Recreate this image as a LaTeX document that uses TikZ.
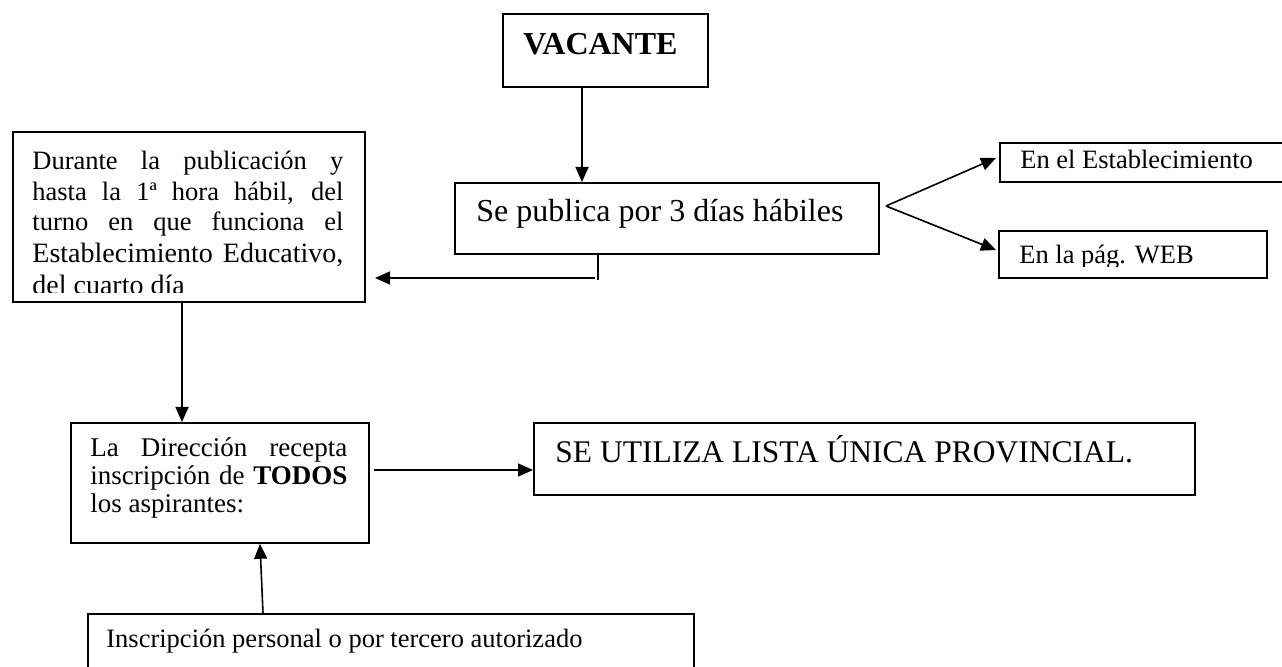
\documentclass[tikz,border=0pt]{standalone}
\usepackage{fontspec}
\setmainfont{Liberation Serif}
\usetikzlibrary{arrows.meta}
\begin{document}
\begin{tikzpicture}[x=0.5pt,y=-0.5pt,
  box/.style={draw,line width=0.9pt,inner sep=0pt,anchor=north west},
  txt/.style={inner sep=0pt,anchor=base west},
  arr/.style={line width=0.8pt,-{Triangle[length=7.5pt,width=6.5pt]}},
  ln/.style={line width=0.8pt},
  fbig/.style={font=\fontsize{16pt}{18pt}\selectfont},
  fse/.style={font=\fontsize{15.75pt}{18pt}\selectfont},
  fdur/.style={font=\fontsize{14pt}{15.4pt}\selectfont},
  fdir/.style={font=\fontsize{13.5pt}{14pt}\selectfont},
  fsm/.style={font=\fontsize{13.25pt}{14pt}\selectfont}]
\useasboundingbox (0,0) rectangle (1282,667);
\clip (0,0) rectangle (1282,667);
\fill[white] (0,0) rectangle (1282,667);

% boxes
\node[box,minimum width=102.5pt,minimum height=36.5pt] (vac) at (502,13) {};
\node[box,minimum width=212pt,minimum height=35.5pt] (pub) at (454,182) {};
\node[box,minimum width=200pt,minimum height=19.5pt] (est) at (999,142) {};
\node[box,minimum width=134pt,minimum height=23.5pt] (web) at (998,230) {};
\node[box,minimum width=176pt,minimum height=85pt] (dur) at (12,131) {};
\node[box,minimum width=149pt,minimum height=60pt] (dir) at (70,422) {};
\node[box,minimum width=330.5pt,minimum height=36pt] (sel) at (533,422) {};
\node[box,minimum width=303pt,minimum height=50pt] (ins) at (87,613) {};

% texts
\node[txt,fbig] (tvac) at (523,55) {\textbf{VACANTE}};
\node[txt,fbig] (tpub) at (476,222) {Se publica por 3 días hábiles};
\node[txt,fsm] (test) at (1020,169) {En el Establecimiento};
\begin{scope}
  \clip (998,230) rectangle (1266,267);
  \node[txt,fsm] (tweb) at (1019,264) {En la pág. WEB};
\end{scope}
\begin{scope}
  \clip (12,131) rectangle (364,292.5);
  \node[txt,fsm] (d1) at (32,170) {\makebox[155.5pt][s]{Durante la publicación y}};
  \node[txt,fsm] (d2) at (32,200.5) {\makebox[155.5pt][s]{hasta la 1ª hora hábil, del}};
  \node[txt,fsm] (d3) at (32,231) {\makebox[155.5pt][s]{turno en que funciona el}};
  \node[txt,fdur] (d4) at (32,262.5) {\makebox[155.5pt][s]{Establecimiento Educativo,}};
  \node[txt,fdur] (d5) at (32,295) {del cuarto día};
\end{scope}
\node[txt,fdir] (r1) at (90,457) {\makebox[128.5pt][s]{La Dirección recepta}};
\node[txt,fdir] (r2) at (90,485) {\makebox[128.5pt][s]{inscripción de \textbf{TODOS}}};
\node[txt,fdir] (r3) at (90,513) {los aspirantes:};
\node[txt,fse] (tsel) at (555,463) {SE UTILIZA LISTA ÚNICA PROVINCIAL.};
\node[txt,fsm] (tins) at (106,648) {Inscripción personal o por tercero autorizado};

% connectors
\draw[arr] (vac.south -| 582,0) -- (pub.north -| 582,0);
\coordinate (fork) at (886,206);
\coordinate (estA) at (996,158);
\coordinate (webA) at (996,250);
\draw[arr] (fork) -- (estA);
\draw[arr] (fork) -- (webA);
\coordinate (tickEnd) at (598,280);
\coordinate (hStart) at (595,278);
\coordinate (hEnd) at (375,278);
\draw[ln] (pub.south -| 598,0) -- (tickEnd);
\draw[arr] (hStart) -- (hEnd);
\draw[arr] (dur.south -| 182,0) -- (dir.north -| 182,0);
\coordinate (dirOut) at (374,470);
\draw[arr] (dirOut) -- (sel.west |- 0,470);
\draw[arr] (ins.north -| 263,0) -- (dir.south -| 260,0);
\end{tikzpicture}
\end{document}
